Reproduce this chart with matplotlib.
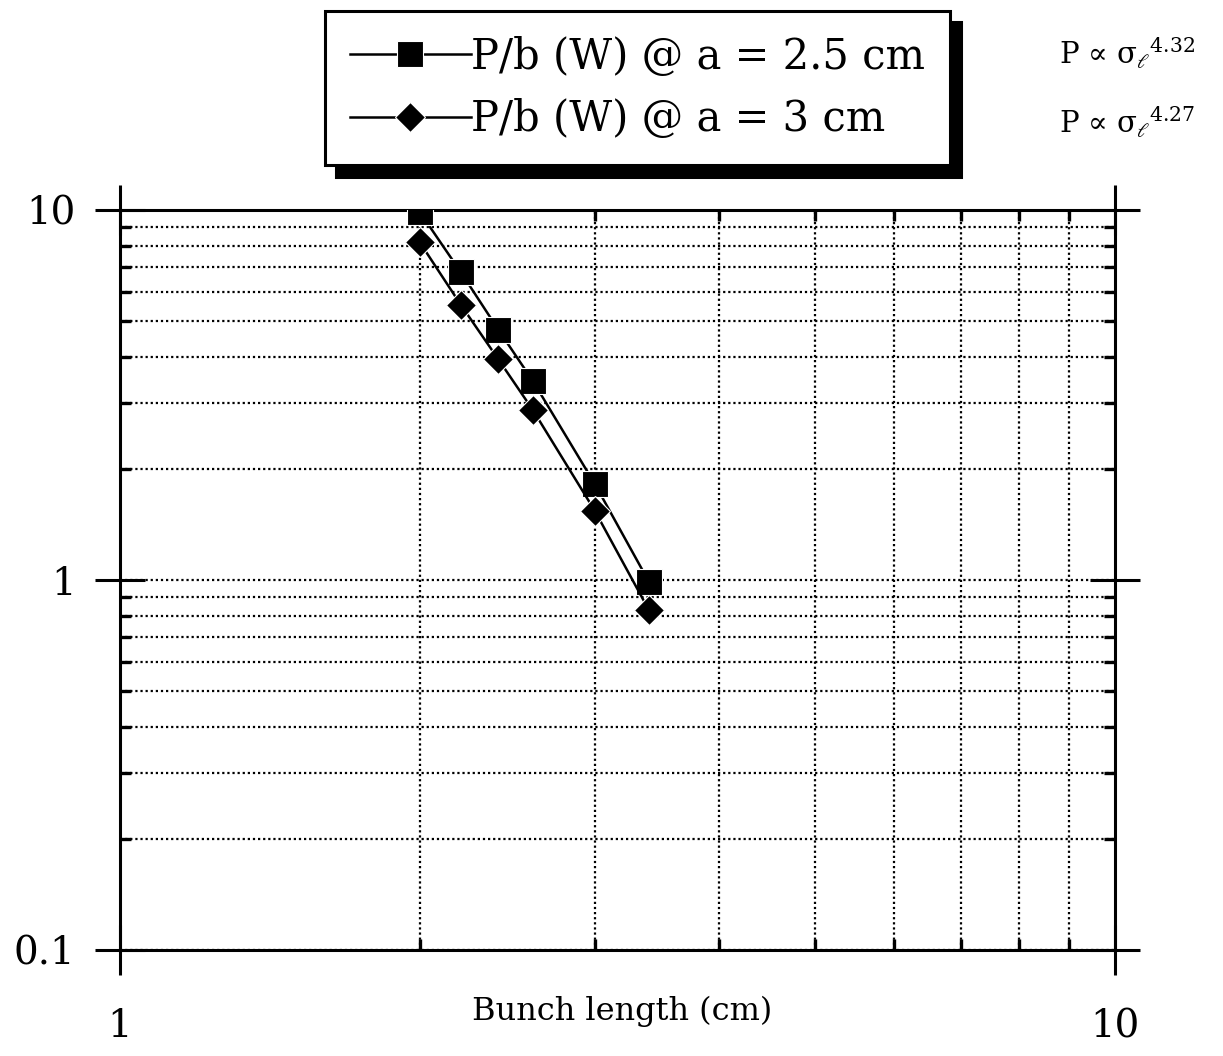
import matplotlib
matplotlib.use('Agg')
import matplotlib.pyplot as plt
from matplotlib.ticker import LogLocator, NullFormatter, FixedLocator, FixedFormatter

plt.rcParams['font.family'] = ['DejaVu Serif']
plt.rcParams['mathtext.fontset'] = 'dejavuserif'

# bunch length (cm)
bunch_len = [2.0, 2.2, 2.4, 2.6, 3.0, 3.4]
# P/b (W) for two pipe radii
p_a25 = [9.9, 6.8, 4.75, 3.45, 1.82, 0.99]
p_a3 = [8.2, 5.55, 3.95, 2.88, 1.54, 0.83]

labels = ['P/b (W) @ a = 2.5 cm', 'P/b (W) @ a = 3 cm']
fits = ['P ∝ σ$_\\ell$$^{\\mathrm{4.32}}$', 'P ∝ σ$_\\ell$$^{\\mathrm{4.27}}$']

fig = plt.figure(figsize=(12.23, 10.56), dpi=100)
ax = fig.add_axes([0.0981, 0.1004, 0.8136, 0.7007])

ax.plot(bunch_len, p_a25, '-', color='black', lw=1.8, marker='s', ms=19,
        mfc='black', mec='white', mew=0.8, label=labels[0], zorder=5)
ax.plot(bunch_len, p_a3, '-', color='black', lw=1.8, marker='D', ms=15,
        mfc='black', mec='white', mew=0.8, label=labels[1], zorder=5)

ax.set_xscale('log')
ax.set_yscale('log')
ax.set_xlim(1, 10)
ax.set_ylim(0.1, 10)

ax.xaxis.set_major_locator(FixedLocator([1, 10]))
ax.xaxis.set_major_formatter(FixedFormatter(['1', '10']))
ax.yaxis.set_major_locator(FixedLocator([0.1, 1, 10]))
ax.yaxis.set_major_formatter(FixedFormatter(['0.1', '1', '10']))
ax.xaxis.set_minor_locator(LogLocator(base=10, subs=range(2, 10)))
ax.yaxis.set_minor_locator(LogLocator(base=10, subs=range(2, 10)))
ax.xaxis.set_minor_formatter(NullFormatter())
ax.yaxis.set_minor_formatter(NullFormatter())

ax.grid(which='minor', ls=(0, (1, 1.3)), lw=1.6, color='black')
ax.grid(which='major', axis='y', ls=(0, (1, 1.3)), lw=1.6, color='black')

ax.tick_params(which='major', direction='inout', length=36, width=2.2,
               top=True, right=True, labelsize=28, pad=14)
ax.tick_params(which='major', axis='x', pad=24)
ax.tick_params(which='minor', direction='in', length=8, width=2.4,
               top=True, right=True)
for s in ax.spines.values():
    s.set_linewidth(2.2)

ax.set_xlabel('Bunch length (cm)', fontsize=23)
ax.xaxis.set_label_coords(0.505, -0.062)

leg = fig.legend(loc='upper center', bbox_to_anchor=(0.521, 0.99), fontsize=30,
                 handlelength=2.9, handletextpad=0.0, borderpad=0.6,
                 labelspacing=0.5, borderaxespad=0, fancybox=False,
                 framealpha=1, edgecolor='black',
                 shadow={'ox': 8, 'oy': -8, 'facecolor': 'black',
                         'edgecolor': 'black', 'alpha': 1})
leg.get_frame().set_linewidth(2.2)

fig.text(0.866, 0.950, fits[0], fontsize=21, va='center')
fig.text(0.866, 0.884, fits[1], fontsize=21, va='center')

fig.savefig('out.png', dpi=100)
